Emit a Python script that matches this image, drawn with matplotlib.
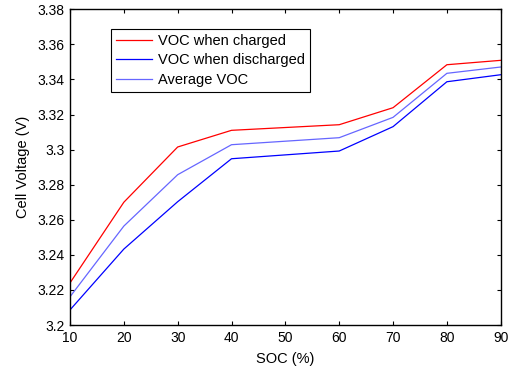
import numpy as np
import matplotlib
matplotlib.use("Agg")
import matplotlib.pyplot as plt
from matplotlib.ticker import FuncFormatter

# SOC points (no sample at 50 %)
soc = [10, 20, 30, 40, 60, 70, 80, 90]
voc_charged = [3.224, 3.270, 3.3015, 3.311, 3.3142, 3.3239, 3.3484, 3.3509]
voc_discharged = [3.2086, 3.2433, 3.2703, 3.2948, 3.2992, 3.3131, 3.3387, 3.3427]
voc_average = [3.2161, 3.2564, 3.2857, 3.3028, 3.3068, 3.3184, 3.3435, 3.3471]

x_ticks = [10, 20, 30, 40, 50, 60, 70, 80, 90]
y_ticks = [3.2, 3.22, 3.24, 3.26, 3.28, 3.3, 3.32, 3.34, 3.36, 3.38]

plt.rcParams['font.family'] = ['Liberation Sans', 'DejaVu Sans']
plt.rcParams['font.size'] = 10

fig = plt.figure(figsize=(5.12, 3.72), dpi=100)
ax = fig.add_axes([0.1367, 0.1263, 0.978 - 0.1367, 0.975 - 0.1263])

ax.plot(soc, voc_charged, color='#ff0000', lw=0.9, label='VOC when charged')
ax.plot(soc, voc_discharged, color='#0000ff', lw=0.9, label='VOC when discharged')
ax.plot(soc, voc_average, color='#6666ff', lw=0.9, label='Average VOC')

ax.set_xlim(10, 90)
ax.set_ylim(3.2, 3.38)
ax.set_xticks(x_ticks)
ax.set_yticks(y_ticks)
ax.yaxis.set_major_formatter(FuncFormatter(lambda v, p: '%g' % round(v, 4)))
ax.tick_params(direction='in', length=3, width=0.8, top=True, right=True, pad=4)
for s in ax.spines.values():
    s.set_linewidth(1.0)

ax.set_xlabel('SOC (%)', labelpad=5, fontsize=10.5)
ax.set_ylabel('Cell Voltage (V)', labelpad=5, fontsize=10.5)

leg = ax.legend(loc='upper left', bbox_to_anchor=(0.095, 0.938), fancybox=False,
                framealpha=1, edgecolor='black', borderpad=0.35, labelspacing=0.37,
                handlelength=2.5, handletextpad=0.35, borderaxespad=0, fontsize=10.5)
leg.get_frame().set_linewidth(0.8)

fig.savefig('out.png', dpi=100)
